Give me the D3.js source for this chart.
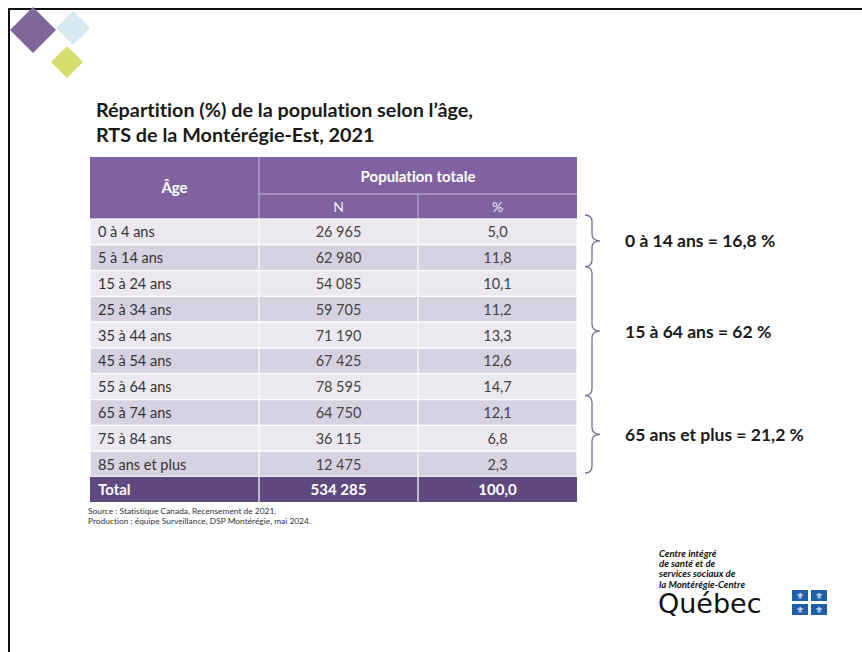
<!DOCTYPE html>
<html>
<head>
<meta charset="utf-8">
<script src="https://cdn.jsdelivr.net/npm/d3@7"></script>
<style>
  body { margin: 0; background: #fff; }
  svg { display: block; font-family: Lato, "Open Sans", sans-serif; font-variant-ligatures: none; }
</style>
</head>
<body>
<div id="chart"></div>
<script>
// data
var ages = ["0 à 4 ans", "5 à 14 ans", "15 à 24 ans", "25 à 34 ans", "35 à 44 ans",
            "45 à 54 ans", "55 à 64 ans", "65 à 74 ans", "75 à 84 ans", "85 ans et plus"];
var popN = [26965, 62980, 54085, 59705, 71190, 67425, 78595, 64750, 36115, 12475];
var popPct = [5.0, 11.8, 10.1, 11.2, 13.3, 12.6, 14.7, 12.1, 6.8, 2.3];
var totalPct = 100.0;
var groupLabels = ["0 à 14 ans = 16,8 %", "15 à 64 ans = 62 %", "65 ans et plus = 21,2 %"];
var groupFirst = ["0 à 4 ans", "15 à 24 ans", "65 à 74 ans"];
var groupLast = ["5 à 14 ans", "55 à 64 ans", "85 ans et plus"];
var titleLines = ["Répartition (%) de la population selon l’âge,", "RTS de la Montérégie-Est, 2021"];
var notes = ["Source : Statistique Canada, Recensement  de 2021.",
             "Production : équipe Surveillance, DSP Montérégie,  mai 2024."];
var logoLines = ["Centre intégré", "de santé et de", "services sociaux de", "la Montérégie-Centre"];

var W = 862, H = 652;
var fr = d3.formatLocale({decimal: ",", thousands: "\u202f", grouping: [3], currency: ["", " $"]});
var fmtN = fr.format(",d"), fmtP = fr.format(",.1f");

var svg = d3.select("#chart").append("svg").attr("width", W).attr("height", H);

// frame
svg.append("path").attr("d", "M9,652V9H862").attr("fill", "none")
  .attr("stroke", "#111").attr("stroke-width", 2);

// corner diamonds
var diamonds = [
  {cx: 33, cy: 30, r: 23, c: "#80669a"},
  {cx: 73, cy: 28, r: 17, c: "#d6e9f0"},
  {cx: 67, cy: 62, r: 16, c: "#d8dd70"}
];
svg.selectAll("rect.dia").data(diamonds).enter().append("rect")
  .attr("class", "dia")
  .attr("x", d => -d.r / Math.SQRT2).attr("y", d => -d.r / Math.SQRT2)
  .attr("width", d => d.r * Math.SQRT2).attr("height", d => d.r * Math.SQRT2)
  .attr("transform", d => "translate(" + d.cx + "," + d.cy + ") rotate(45)")
  .attr("fill", d => d.c);

// title
svg.selectAll("text.title").data(titleLines).enter().append("text")
  .attr("class", "title")
  .attr("x", 96).attr("y", (d, i) => 117 + i * 25)
  .attr("font-size", 19.8).attr("font-weight", 700).attr("fill", "#1a1a1a")
  .text(d => d);

// table geometry
var tLeft = 90, tRight = 577, colN = 259, colP = 418;
var hTop = 157, hMid = 194, hBot = 219;
var y = d3.scaleBand().domain(ages).range([hBot, 477]);
var rowH = y.bandwidth();
var cx = {age: 98, n: (colN + colP) / 2, p: (colP + tRight) / 2};

var header = svg.append("g");
header.append("rect").attr("x", tLeft).attr("y", hTop)
  .attr("width", tRight - tLeft).attr("height", hBot - hTop).attr("fill", "#8062a1");
header.append("line").attr("x1", colN).attr("x2", colN).attr("y1", hTop).attr("y2", hBot)
  .attr("stroke", "#c8b8dc").attr("stroke-width", 1);
header.append("line").attr("x1", colN).attr("x2", tRight).attr("y1", hMid).attr("y2", hMid)
  .attr("stroke", "#c8b8dc").attr("stroke-width", 1);
header.append("line").attr("x1", colP).attr("x2", colP).attr("y1", hMid).attr("y2", hBot)
  .attr("stroke", "#c8b8dc").attr("stroke-width", 1);
header.append("text").attr("x", (tLeft + colN) / 2).attr("y", 193)
  .attr("text-anchor", "middle").attr("font-size", 15).attr("font-weight", 700)
  .attr("fill", "#fff").text("Âge");
header.append("text").attr("x", (colN + tRight) / 2).attr("y", 182)
  .attr("text-anchor", "middle").attr("font-size", 15).attr("font-weight", 700)
  .attr("fill", "#fff").text("Population totale");
header.append("text").attr("x", cx.n).attr("y", 212)
  .attr("text-anchor", "middle").attr("font-size", 14).attr("fill", "#f2eef7").text("N");
header.append("text").attr("x", cx.p).attr("y", 212)
  .attr("text-anchor", "middle").attr("font-size", 14).attr("fill", "#f2eef7").text("%");

// body rows
var rows = svg.selectAll("g.row").data(ages).enter().append("g")
  .attr("class", "row").attr("transform", d => "translate(0," + y(d) + ")");
rows.append("rect").attr("x", tLeft).attr("width", tRight - tLeft).attr("height", rowH)
  .attr("fill", (d, i) => i % 2 ? "#d7d2e2" : "#ebe8ef")
  .attr("stroke", "#fff").attr("stroke-width", 1.2);
rows.append("line").attr("x1", colN).attr("x2", colN).attr("y2", rowH)
  .attr("stroke", "#fff").attr("stroke-width", 1.2);
rows.append("line").attr("x1", colP).attr("x2", colP).attr("y2", rowH)
  .attr("stroke", "#fff").attr("stroke-width", 1.2);
rows.append("text").attr("x", cx.age).attr("y", rowH / 2 + 5.5)
  .attr("font-size", 14.5).attr("fill", "#333").text(d => d);
rows.append("text").attr("x", cx.n).attr("y", rowH / 2 + 5.5).attr("text-anchor", "middle")
  .attr("font-size", 14.5).attr("fill", "#444").text((d, i) => fmtN(popN[i]));
rows.append("text").attr("x", cx.p).attr("y", rowH / 2 + 5.5).attr("text-anchor", "middle")
  .attr("font-size", 14.5).attr("fill", "#444").text((d, i) => fmtP(popPct[i]));

// total row
var totY = y(ages[ages.length - 1]) + rowH;
var tot = svg.append("g").attr("transform", "translate(0," + totY + ")");
tot.append("rect").attr("x", tLeft).attr("width", tRight - tLeft).attr("height", 25)
  .attr("fill", "#5f487e");
[colN, colP].forEach(function(x) {
  tot.append("line").attr("x1", x).attr("x2", x).attr("y2", 25)
    .attr("stroke", "#fff").attr("stroke-width", 1.2);
});
tot.append("text").attr("x", cx.age).attr("y", 18).attr("font-size", 15)
  .attr("font-weight", 700).attr("fill", "#fff").text("Total");
tot.append("text").attr("x", cx.n).attr("y", 18).attr("text-anchor", "middle")
  .attr("font-size", 15).attr("font-weight", 700).attr("fill", "#fff").text(fmtN(d3.sum(popN)));
tot.append("text").attr("x", cx.p).attr("y", 18).attr("text-anchor", "middle")
  .attr("font-size", 15).attr("font-weight", 700).attr("fill", "#fff").text(fmtP(totalPct));

// notes
svg.selectAll("text.note").data(notes).enter().append("text")
  .attr("class", "note").attr("x", 88).attr("y", (d, i) => 514 + i * 10)
  .attr("font-size", 8.4).attr("fill", "#333").text(d => d);

// braces
function brace(x0, top, bot, tip) {
  var x1 = x0 + 7, x2 = x0 + 15, r = 7;
  return "M" + x0 + "," + top +
    "Q" + x1 + "," + top + " " + x1 + "," + (top + r) +
    "V" + (tip - r) +
    "Q" + x1 + "," + tip + " " + x2 + "," + tip +
    "Q" + x1 + "," + tip + " " + x1 + "," + (tip + r) +
    "V" + (bot - r) +
    "Q" + x1 + "," + bot + " " + x0 + "," + bot;
}
var groups = groupLabels.map(function(l, i) {
  var top = y(groupFirst[i]), bot = y(groupLast[i]) + rowH;
  return {label: l, top: top - 4, bot: bot - 4, tip: (top + bot) / 2 - 4};
});
svg.selectAll("path.brace").data(groups).enter().append("path")
  .attr("class", "brace").attr("d", d => brace(585, d.top, d.bot, d.tip))
  .attr("fill", "none").attr("stroke", "#7b6d98").attr("stroke-width", 1.3);
svg.selectAll("text.grp").data(groups).enter().append("text")
  .attr("class", "grp").attr("x", 625).attr("y", d => d.tip + 6.5)
  .attr("font-size", 17.5).attr("font-weight", 700).attr("fill", "#1a1a1a")
  .text(d => d.label);

// Québec logo
var logo = svg.append("g");
logo.selectAll("text.ll").data(logoLines).enter().append("text")
  .attr("class", "ll").attr("x", 659).attr("y", (d, i) => 557 + i * 10.2)
  .attr("font-size", 9.6).attr("font-weight", 700).attr("font-style", "italic")
  .attr("fill", "#111").text(d => d);
logo.append("text").attr("x", 658).attr("y", 613).attr("font-size", 27)
  .attr("font-family", "'DejaVu Sans', sans-serif").attr("fill", "#111").text("Québec");
var flags = [[792, 590], [811, 590], [792, 604], [811, 604]];
logo.selectAll("rect.fl").data(flags).enter().append("rect")
  .attr("class", "fl").attr("x", d => d[0]).attr("y", d => d[1])
  .attr("width", 16).attr("height", 11).attr("fill", "#1f5ea8");
logo.selectAll("text.fl").data(flags).enter().append("text")
  .attr("class", "fl").attr("x", d => d[0] + 8).attr("y", d => d[1] + 9)
  .attr("text-anchor", "middle").attr("font-size", 9).attr("fill", "#fff").text("⚜");
</script>
</body>
</html>
